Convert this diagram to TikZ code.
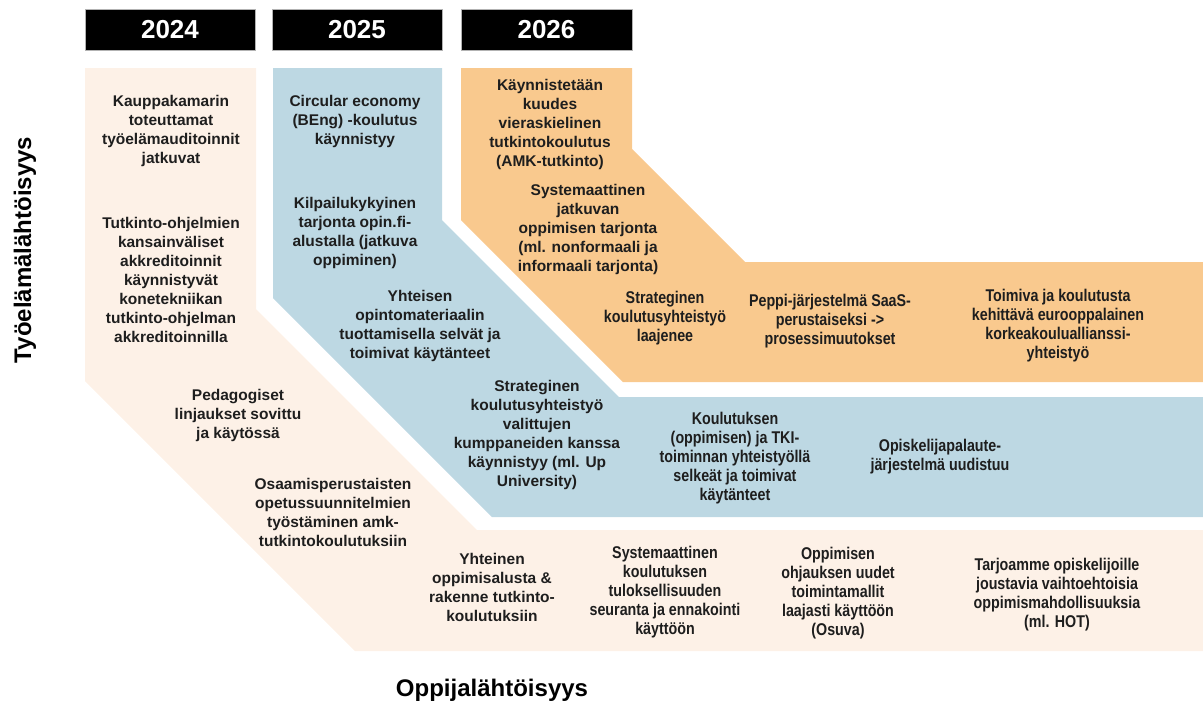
\documentclass[tikz,border=0pt]{standalone}
\usepackage{fontspec}
\setmainfont{Liberation Sans}
\newfontfamily\narrowfont[FakeStretch=0.84]{Liberation Sans}
\definecolor{peach}{RGB}{253,241,231}
\definecolor{bluegray}{RGB}{189,216,227}
\definecolor{orangeband}{RGB}{249,201,142}
\definecolor{txtcol}{RGB}{30,30,30}
\tikzset{
  yearbox/.style={fill=black, draw=gray!60, line width=0.8pt, minimum width=170pt, minimum height=41pt, inner sep=0pt, text=white, font=\fontsize{26}{30}\selectfont\bfseries},
  txt/.style={align=center, text=txtcol, inner sep=0pt, font=\fontsize{15.5}{19}\selectfont\bfseries},
  ntxt/.style={align=center, text=txtcol, inner sep=0pt, font=\narrowfont\bfseries\fontsize{17}{19}\selectfont},
  axislabel/.style={text=black, inner sep=0pt, font=\fontsize{24}{28}\selectfont\bfseries}
}
\begin{document}
\begin{tikzpicture}[x=1pt,y=-1pt]
\useasboundingbox (0,0) rectangle (1203,705);

% bands
\fill[peach] (85,68) -- (256,68) -- (256,309) -- (477,530) -- (1203,530) -- (1203,651) -- (355,651) -- (85,381) -- cycle;
\fill[bluegray] (273,68) -- (442,68) -- (442,220) -- (619,397) -- (1203,397) -- (1203,517) -- (492,517) -- (273,298) -- cycle;
\fill[orangeband] (461,68) -- (632,68) -- (632,149) -- (745,262) -- (1203,262) -- (1203,382) -- (623,382) -- (461,220) -- cycle;

% year headers
\node[yearbox] (y2024) at (170,29.5) {2024};
\node[yearbox] (y2025) at (357,29.5) {2025};
\node[yearbox, minimum width=171pt] (y2026) at (546.5,29.5) {2026};

% axis labels
\node[axislabel, rotate=90] (ltyo) at (25,250) {Työelämälähtöisyys};
\node[axislabel] (loppi) at (492,690) {Oppijalähtöisyys};

% 2024 / peach
\node[txt] (p1) at (171,131) {Kauppakamarin\\toteuttamat\\työelämauditoinnit\\jatkuvat};
\node[txt] (p2) at (171,280) {Tutkinto-ohjelmien\\kansainväliset\\akkreditoinnit\\käynnistyvät\\konetekniikan\\tutkinto-ohjelman\\akkreditoinnilla};
\node[txt] (p3) at (238,415) {Pedagogiset\\linjaukset sovittu\\ja käytössä};
\node[txt] (p4) at (333,512) {Osaamisperustaisten\\opetussuunnitelmien\\työstäminen amk-\\tutkintokoulutuksiin};
\node[txt] (p5) at (492,587) {Yhteinen\\oppimisalusta \&\\rakenne tutkinto-\\koulutuksiin};
\node[ntxt] (p6) at (665,592) {Systemaattinen\\koulutuksen\\tuloksellisuuden\\seuranta ja ennakointi\\käyttöön};
\node[ntxt] (p7) at (838,593) {Oppimisen\\ohjauksen uudet\\toimintamallit\\laajasti käyttöön\\(Osuva)};
\node[ntxt] (p8) at (1057,595) {Tarjoamme opiskelijoille\\joustavia vaihtoehtoisia\\oppimismahdollisuuksia\\(ml. HOT)};

% 2025 / blue
\node[txt] (b1) at (355,121) {Circular economy\\(BEng) -koulutus\\käynnistyy};
\node[txt] (b2) at (355,233) {Kilpailukykyinen\\tarjonta opin.fi-\\alustalla (jatkuva\\oppiminen)};
\node[txt] (b3) at (420,326) {Yhteisen\\opintomateriaalin\\tuottamisella selvät ja\\toimivat käytänteet};
\node[txt] (b4) at (537,435) {Strateginen\\koulutusyhteistyö\\valittujen\\kumppaneiden kanssa\\käynnistyy (ml. Up\\University)};
\node[ntxt] (b5) at (735,458) {Koulutuksen\\(oppimisen) ja TKI-\\toiminnan yhteistyöllä\\selkeät ja toimivat\\käytänteet};
\node[ntxt] (b6) at (940,457) {Opiskelijapalaute-\\järjestelmä uudistuu};

% 2026 / orange
\node[txt] (o1) at (550,124) {Käynnistetään\\kuudes\\vieraskielinen\\tutkintokoulutus\\(AMK-tutkinto)};
\node[txt] (o2) at (588,229) {Systemaattinen\\jatkuvan\\oppimisen tarjonta\\(ml. nonformaali ja\\informaali tarjonta)};
\node[ntxt] (o3) at (665,318) {Strateginen\\koulutusyhteistyö\\laajenee};
\node[ntxt] (o4) at (830,321) {Peppi-järjestelmä SaaS-\\perustaiseksi ->\\prosessimuutokset};
\node[ntxt] (o5) at (1058,326) {Toimiva ja koulutusta\\kehittävä eurooppalainen\\korkeakouluallianssi-\\yhteistyö};
\end{tikzpicture}
\end{document}
